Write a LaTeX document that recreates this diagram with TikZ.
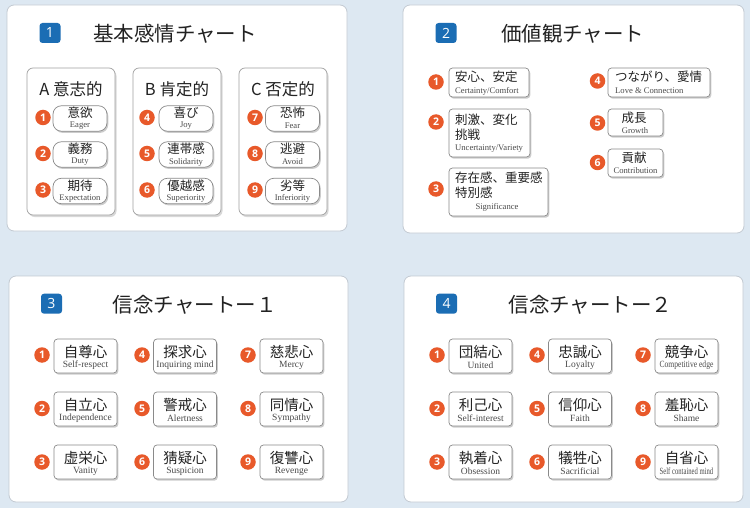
\documentclass[tikz,border=0pt]{standalone}
\usepackage{fontspec}
\usetikzlibrary{shadows}
\newfontfamily\jpf{Noto Sans CJK JP}
\newfontfamily\enf{Liberation Serif}
\newfontfamily\numf{Open Sans}
\definecolor{bgc}{HTML}{DDE8F2}
\definecolor{pbord}{HTML}{C3CAD2}
\definecolor{badgec}{HTML}{1B6DB4}
\definecolor{orng}{HTML}{E8592A}
\definecolor{txt}{HTML}{222222}
\definecolor{entxt}{HTML}{4A4A4A}
\definecolor{bbord}{HTML}{8A8A8A}
\tikzset{
 panel/.style={draw=pbord, fill=white, line width=0.8pt, rounded corners=7pt},
 colbox/.style={draw=bbord!80, fill=white, line width=0.7pt, rounded corners=6pt, inner sep=0,
   drop shadow={shadow xshift=1.5pt, shadow yshift=-2pt, opacity=0.3}},
 pill/.style={draw=bbord, fill=white, line width=0.7pt, rounded corners=8.5pt, inner sep=0,
   drop shadow={shadow xshift=1.3pt, shadow yshift=-1.7pt, opacity=0.4}},
 card/.style={draw=bbord, fill=white, line width=0.7pt, rounded corners=3.5pt, inner sep=0,
   drop shadow={shadow xshift=1.3pt, shadow yshift=-1.7pt, opacity=0.4}},
 badgebox/.style={fill=badgec, rounded corners=3pt, minimum width=21pt, minimum height=20pt,
   inner sep=0, text=white, font=\numf\fontsize{14}{14}\selectfont},
 num/.style={circle, fill=orng, minimum size=15.5pt, inner sep=0, text=white,
   font=\numf\bfseries\fontsize{10.5}{10.5}\selectfont},
 title/.style={anchor=west, inner sep=0, text=txt, font=\jpf\fontsize{20.5}{20.5}\selectfont},
 head/.style={inner sep=0, text=txt, font=\jpf\fontsize{16.5}{16.5}\selectfont},
 jps/.style={inner sep=0, text=txt, font=\jpf\fontsize{12.5}{12.5}\selectfont},
 ens/.style={inner sep=0, text=entxt, font=\enf\fontsize{8.6}{8.6}\selectfont},
 jpm/.style={inner sep=0, text=txt, font=\jpf\fontsize{14.5}{14.5}\selectfont},
 enm/.style={inner sep=0, text=entxt, font=\enf\fontsize{9.5}{9.5}\selectfont},
}
\newcommand\pillcell[5]{%
 \node[pill, minimum width=54pt, minimum height=25.5pt] (#1) at (#2,#3) {};
 \node[jps] (#1j) at ([yshift=5.5pt]#1.center) {#4};
 \node[ens] (#1e) at ([yshift=-7.5pt]#1.center) {#5};}
\newcommand\cardcell[5]{%
 \node[card, minimum width=63pt, minimum height=34pt] (#1) at (#2,#3) {};
 \node[jpm] (#1j) at ([yshift=4pt]#1.center) {#4};
 \node[enm] (#1e) at ([yshift=-9pt]#1.center) {#5};}
\begin{document}
\begin{tikzpicture}[x=1pt, y=-1pt]
\useasboundingbox (0,0) rectangle (750,508);
\fill[bgc] (0,0) rectangle (750,508);
% panels
\draw[panel] (7,5) rectangle (347,231);
\draw[panel] (403,5) rectangle (744,233);
\draw[panel] (9,276) rectangle (348,502);
\draw[panel] (404,276) rectangle (743,502);
% titles
\node[badgebox] (b1) at (50,33) {1};
\node[title] (t1) at (93,33.5) {基本感情チャート};
\node[badgebox] (b2) at (446,33) {2};
\node[title] (t2) at (501,33.5) {価値観チャート};
\node[badgebox] (b3) at (51.5,303.7) {3};
\node[title] (t3) at (112.7,304.5) {信念チャートー１};
\node[badgebox] (b4) at (446.5,303.7) {4};
\node[title] (t4) at (508.3,304.5) {信念チャートー２};
% panel 1 columns
\node[colbox, minimum width=88pt, minimum height=147pt] (colA) at (71,141.5) {};
\node[colbox, minimum width=88pt, minimum height=147pt] (colB) at (177,141.5) {};
\node[colbox, minimum width=88pt, minimum height=147pt] (colC) at (283,141.5) {};
\node[head] (hA) at (71,89) {A 意志的};
\node[head] (hB) at (177,89) {B 肯定的};
\node[head] (hC) at (283,89) {C 否定的};
\node[num] (n11) at (43,117.5) {1};
\node[num] (n12) at (43,153.5) {2};
\node[num] (n13) at (43,190) {3};
\node[num] (n14) at (147,117.5) {4};
\node[num] (n15) at (147,153.5) {5};
\node[num] (n16) at (147,190) {6};
\node[num] (n17) at (255,117.5) {7};
\node[num] (n18) at (255,153.5) {8};
\node[num] (n19) at (255,190) {9};
\pillcell{p11}{80}{118.5}{意欲}{Eager}
\pillcell{p12}{80}{154.5}{義務}{Duty}
\pillcell{p13}{80}{191}{期待}{Expectation}
\pillcell{p14}{186}{118.5}{喜び}{Joy}
\pillcell{p15}{186}{154.5}{連帯感}{Solidarity}
\pillcell{p16}{186}{191}{優越感}{Superiority}
\pillcell{p17}{292.5}{118.5}{恐怖}{Fear}
\pillcell{p18}{292.5}{154.5}{逃避}{Avoid}
\pillcell{p19}{292.5}{191}{劣等}{Inferiority}
% panel 2
\node[num] (n21) at (436,82) {1};
\node[num] (n22) at (436,122) {2};
\node[num] (n23) at (436,189) {3};
\node[num] (n24) at (597.5,81) {4};
\node[num] (n25) at (597.5,123) {5};
\node[num] (n26) at (597.5,162.5) {6};
\node[card, minimum width=80pt, minimum height=29pt] (c21) at (489,82.5) {};
\node[card, minimum width=81pt, minimum height=48pt] (c22) at (489.5,133) {};
\node[card, minimum width=99pt, minimum height=48pt] (c23) at (498.5,192) {};
\node[card, minimum width=102pt, minimum height=29pt] (c24) at (659,82.5) {};
\node[card, minimum width=55pt, minimum height=27pt] (c25) at (635.5,122.5) {};
\node[card, minimum width=55pt, minimum height=28pt] (c26) at (635.5,163) {};
\node[jps, anchor=west] (c21j) at (455,77) {安心、安定};
\node[ens, anchor=west] (c21e) at (455,91) {Certainty/Comfort};
\node[jps, anchor=west] (c22j1) at (455,120) {刺激、変化};
\node[jps, anchor=west] (c22j2) at (455,135) {挑戦};
\node[ens, anchor=west] (c22e) at (455,148.5) {Uncertainty/Variety};
\node[jps, anchor=west] (c23j1) at (455,178) {存在感、重要感};
\node[jps, anchor=west] (c23j2) at (455,192.5) {特別感};
\node[ens] (c23e) at (497,207) {Significance};
\node[jps, anchor=west] (c24j) at (615,77) {つながり、愛情};
\node[ens, anchor=west] (c24e) at (615,91) {Love \& Connection};
\node[jps] (c25j) at (634,118) {成長};
\node[ens] (c25e) at (635,130.5) {Growth};
\node[jps] (c26j) at (634,158) {貢献};
\node[ens] (c26e) at (635.5,170.5) {Contribution};
% panel 3
\node[num] (n31) at (42,355) {1};
\node[num] (n32) at (42,408.5) {2};
\node[num] (n33) at (42,462) {3};
\node[num] (n34) at (142,355) {4};
\node[num] (n35) at (142,408.5) {5};
\node[num] (n36) at (142,462) {6};
\node[num] (n37) at (248,355) {7};
\node[num] (n38) at (248,408.5) {8};
\node[num] (n39) at (248,462) {9};
\cardcell{q31}{85.5}{356}{自尊心}{Self-respect}
\cardcell{q32}{85.5}{409}{自立心}{Independence}
\cardcell{q33}{85.5}{462}{虚栄心}{Vanity}
\cardcell{q34}{185}{356}{探求心}{Inquiring mind}
\cardcell{q35}{185}{409}{警戒心}{Alertness}
\cardcell{q36}{185}{462}{猜疑心}{Suspicion}
\cardcell{q37}{291.5}{356}{慈悲心}{Mercy}
\cardcell{q38}{291.5}{409}{同情心}{Sympathy}
\cardcell{q39}{291.5}{462}{復讐心}{Revenge}
% panel 4
\node[num] (n41) at (437,355) {1};
\node[num] (n42) at (437,408.5) {2};
\node[num] (n43) at (437,462) {3};
\node[num] (n44) at (537,355) {4};
\node[num] (n45) at (537,408.5) {5};
\node[num] (n46) at (537,462) {6};
\node[num] (n47) at (643,355) {7};
\node[num] (n48) at (643,408.5) {8};
\node[num] (n49) at (643,462) {9};
\cardcell{q41}{480.5}{356}{団結心}{United}
\cardcell{q42}{480.5}{409}{利己心}{Self-interest}
\cardcell{q43}{480.5}{462}{執着心}{Obsession}
\cardcell{q44}{580}{356}{忠誠心}{Loyalty}
\cardcell{q45}{580}{409}{信仰心}{Faith}
\cardcell{q46}{580}{462}{犠牲心}{Sacrificial}
\cardcell{q47}{686.5}{356}{競争心}{\scalebox{0.8}[1]{Competitive edge}}
\cardcell{q48}{686.5}{409}{羞恥心}{Shame}
\cardcell{q49}{686.5}{462}{自省心}{\scalebox{0.7}[1]{Self contained mind}}
\end{tikzpicture}
\end{document}
